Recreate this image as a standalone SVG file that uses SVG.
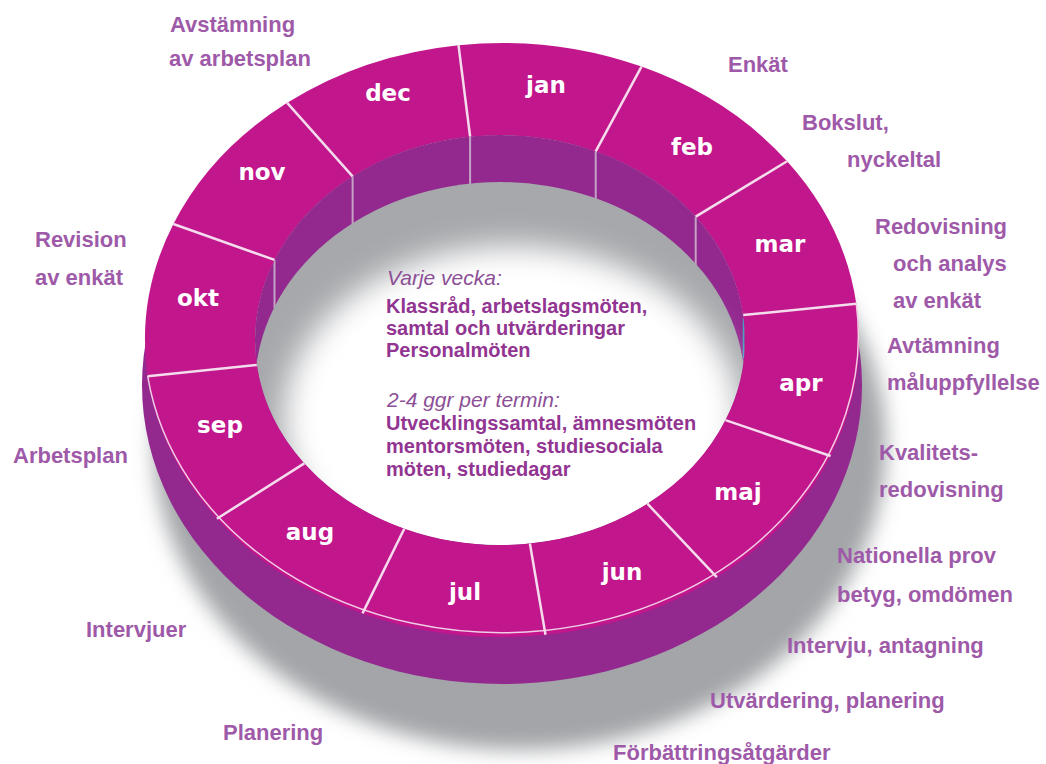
<svg xmlns="http://www.w3.org/2000/svg" width="1046" height="764" viewBox="0 0 1046 764">
<style>
.lbl{font-family:"Liberation Sans",Arial,sans-serif;font-weight:bold;font-size:22px;fill:#9e5aa8}
.mon{font-family:"DejaVu Sans",Verdana,sans-serif;font-weight:bold;font-size:23px;fill:#ffffff;text-anchor:middle}
.seg{fill:#c1168c}
.div{stroke:#f4dced;stroke-width:2.5;fill:none}
.wdiv{stroke:#c4a2c6;stroke-width:2}
.it{font-family:"Liberation Sans",Arial,sans-serif;font-style:italic;font-size:21px;fill:#8c4f96}
.bd{font-family:"Liberation Sans",Arial,sans-serif;font-weight:bold;font-size:20px;fill:#923592}
</style>
<defs>
<filter id="shblur" x="-20%" y="-20%" width="140%" height="140%"><feGaussianBlur stdDeviation="10"/></filter>
<filter id="glow" x="-30%" y="-30%" width="160%" height="160%"><feGaussianBlur stdDeviation="15"/></filter>
<clipPath id="hole"><ellipse cx="500" cy="340" rx="245" ry="205"/></clipPath>
</defs>
<rect width="1046" height="764" fill="#ffffff"/>

<!-- shadow -->
<ellipse cx="520" cy="445" rx="366" ry="305" fill="#a3a5a8" filter="url(#shblur)"/>
<!-- outer wall -->
<ellipse cx="502" cy="385" rx="360" ry="299" fill="#93288f"/>

<!-- hole -->
<g id="hole-interior" clip-path="url(#hole)">
<rect x="240" y="120" width="520" height="440" fill="#a6a8ab"/>
<ellipse cx="500" cy="340" rx="245" ry="205" fill="#93288f"/>
<line class="wdiv" x1="470.1" y1="136.5" x2="470.1" y2="184"/>
<line class="wdiv" x1="595.7" y1="151.3" x2="595.7" y2="199"/>
<line class="wdiv" x1="695.7" y1="216.6" x2="695.7" y2="265"/>
<line class="wdiv" x1="352.6" y1="176.3" x2="352.6" y2="224"/>
<line class="wdiv" x1="274.5" y1="259.9" x2="274.5" y2="308"/>
<ellipse cx="500" cy="387" rx="245" ry="205" fill="#a6a8ab"/>
<line x1="743.5" y1="318" x2="743.5" y2="358" stroke="#4a9cc0" stroke-width="1.5"/>
<ellipse cx="512" cy="418" rx="228" ry="172" fill="#ffffff" filter="url(#glow)"/>
</g>

<!-- top face segments -->
<g id="m-jan"><path class="seg" d="M458.5,45.2 A357,297 0 0 1 641.5,66.6 L595.7,151.3 A245,205 0 0 0 470.1,136.5 Z"/><text class="mon" x="546" y="93">jan</text></g>
<g id="m-feb"><path class="seg" d="M641.5,66.6 A357,297 0 0 1 787.1,161.3 L695.7,216.6 A245,205 0 0 0 595.7,151.3 Z"/><text class="mon" x="692" y="155">feb</text></g>
<g id="m-mar"><path class="seg" d="M787.1,161.3 A357,297 0 0 1 856.3,303.8 L743.2,315 A245,205 0 0 0 695.7,216.6 Z"/><text class="mon" x="780" y="252">mar</text></g>
<g id="m-apr"><path class="seg" d="M856.3,303.8 A357,297 0 0 1 830.6,456 L725.5,420.1 A245,205 0 0 0 743.2,315 Z"/><text class="mon" x="801" y="391">apr</text></g>
<g id="m-maj"><path class="seg" d="M830.6,456 A357,297 0 0 1 716.8,577.2 L647.4,503.7 A245,205 0 0 0 725.5,420.1 Z"/><text class="mon" x="738" y="500">maj</text></g>
<g id="m-jun"><path class="seg" d="M716.8,577.2 A357,297 0 0 1 545.5,634.8 L529.9,543.5 A245,205 0 0 0 647.4,503.7 Z"/><text class="mon" x="622" y="580">jun</text></g>
<g id="m-jul"><path class="seg" d="M545.5,634.8 A357,297 0 0 1 362.5,613.4 L404.3,528.7 A245,205 0 0 0 529.9,543.5 Z"/><text class="mon" x="465" y="600">jul</text></g>
<g id="m-aug"><path class="seg" d="M362.5,613.4 A357,297 0 0 1 216.9,518.7 L304.3,463.4 A245,205 0 0 0 404.3,528.7 Z"/><text class="mon" x="310" y="540">aug</text></g>
<g id="m-sep"><path class="seg" d="M216.9,518.7 A357,297 0 0 1 147.7,376.2 L256.8,365 A245,205 0 0 0 304.3,463.4 Z"/><text class="mon" x="220" y="433">sep</text></g>
<g id="m-okt"><path class="seg" d="M147.7,376.2 A357,297 0 0 1 173.4,224 L274.5,259.9 A245,205 0 0 0 256.8,365 Z"/><text class="mon" x="198" y="306">okt</text></g>
<g id="m-nov"><path class="seg" d="M173.4,224 A357,297 0 0 1 287.2,102.8 L352.6,176.3 A245,205 0 0 0 274.5,259.9 Z"/><text class="mon" x="262" y="180">nov</text></g>
<g id="m-dec"><path class="seg" d="M287.2,102.8 A357,297 0 0 1 458.5,45.2 L470.1,136.5 A245,205 0 0 0 352.6,176.3 Z"/><text class="mon" x="388" y="101">dec</text></g>

<!-- dividers and edge highlight -->
<g id="dividers">
<path d="M147.7,376.2 A357,297 0 0 0 856.3,303.8" stroke="#f0cde4" stroke-width="1.5" fill="none"/>
<line class="div" x1="458.5" y1="45.2" x2="470.1" y2="136.5"/>
<line class="div" x1="641.5" y1="66.6" x2="595.7" y2="151.3"/>
<line class="div" x1="787.1" y1="161.3" x2="695.7" y2="216.6"/>
<line class="div" x1="856.3" y1="303.8" x2="743.2" y2="315"/>
<line class="div" x1="830.6" y1="456" x2="725.5" y2="420.1"/>
<line class="div" x1="716.8" y1="577.2" x2="647.4" y2="503.7"/>
<line class="div" x1="545.5" y1="634.8" x2="529.9" y2="543.5"/>
<line class="div" x1="362.5" y1="613.4" x2="404.3" y2="528.7"/>
<line class="div" x1="216.9" y1="518.7" x2="304.3" y2="463.4"/>
<line class="div" x1="147.7" y1="376.2" x2="256.8" y2="365"/>
<line class="div" x1="173.4" y1="224" x2="274.5" y2="259.9"/>
<line class="div" x1="287.2" y1="102.8" x2="352.6" y2="176.3"/>
</g>

<!-- centre text -->
<g id="centre-text">
<text class="it" x="387" y="285">Varje vecka:</text>
<text class="bd" x="386" y="313">Klassråd, arbetslagsmöten,</text>
<text class="bd" x="386" y="335">samtal och utvärderingar</text>
<text class="bd" x="386" y="357">Personalmöten</text>
<text class="it" x="387" y="407">2-4 ggr per termin:</text>
<text class="bd" x="386" y="430">Utvecklingssamtal, ämnesmöten</text>
<text class="bd" x="386" y="453">mentorsmöten, studiesociala</text>
<text class="bd" x="386" y="476">möten, studiedagar</text>
</g>

<!-- outer labels -->
<g id="lbl-avstamning"><text class="lbl" x="170" y="32">Avstämning</text><text class="lbl" x="169" y="66">av arbetsplan</text></g>
<g id="lbl-enkat"><text class="lbl" x="728" y="72">Enkät</text></g>
<g id="lbl-bokslut"><text class="lbl" x="802" y="130">Bokslut,</text><text class="lbl" x="847" y="167">nyckeltal</text></g>
<g id="lbl-redovisning"><text class="lbl" x="875" y="234">Redovisning</text><text class="lbl" x="893" y="271">och analys</text><text class="lbl" x="893" y="308">av enkät</text></g>
<g id="lbl-avtamning"><text class="lbl" x="887" y="353">Avtämning</text><text class="lbl" x="887" y="390">måluppfyllelse</text></g>
<g id="lbl-kvalitet"><text class="lbl" x="879" y="460">Kvalitets-</text><text class="lbl" x="879" y="497">redovisning</text></g>
<g id="lbl-nationella"><text class="lbl" x="837" y="563">Nationella prov</text><text class="lbl" x="837" y="602">betyg, omdömen</text></g>
<g id="lbl-intervju"><text class="lbl" x="787" y="653">Intervju, antagning</text></g>
<g id="lbl-utvardering"><text class="lbl" x="710" y="708">Utvärdering, planering</text></g>
<g id="lbl-forbattring"><text class="lbl" x="613" y="760">Förbättringsåtgärder</text></g>
<g id="lbl-planering"><text class="lbl" x="223" y="740">Planering</text></g>
<g id="lbl-intervjuer"><text class="lbl" x="86" y="637">Intervjuer</text></g>
<g id="lbl-arbetsplan"><text class="lbl" x="13" y="463">Arbetsplan</text></g>
<g id="lbl-revision"><text class="lbl" x="35" y="247">Revision</text><text class="lbl" x="35" y="285">av enkät</text></g>
</svg>
